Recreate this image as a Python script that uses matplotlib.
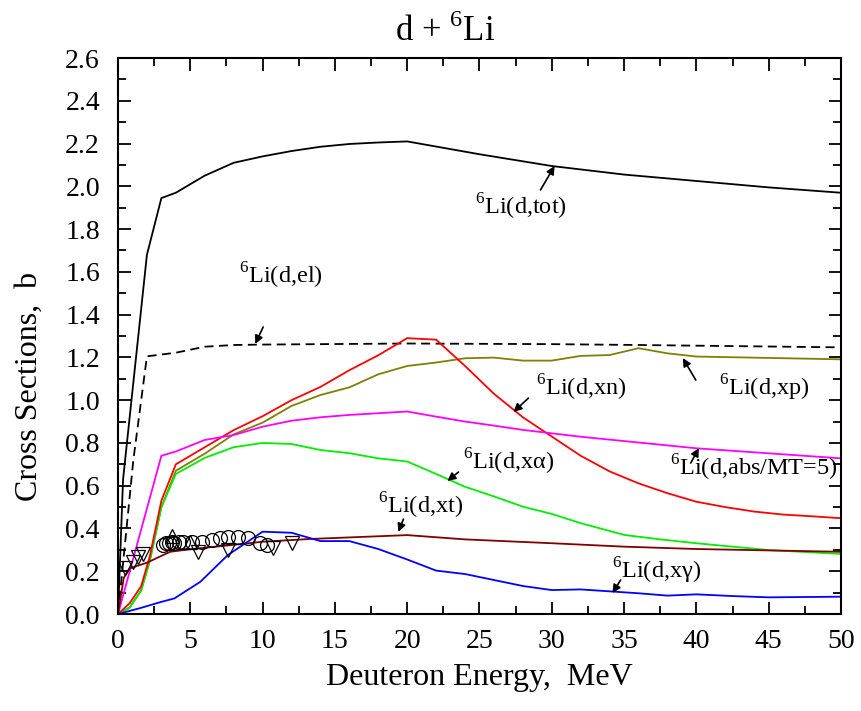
import numpy as np
import matplotlib
matplotlib.use('Agg')
from matplotlib import pyplot as plt
from matplotlib.ticker import MultipleLocator, FormatStrFormatter

plt.rcParams['font.family'] = ['Liberation Serif', 'DejaVu Serif']
plt.rcParams['mathtext.fontset'] = 'custom'
plt.rcParams['mathtext.rm'] = 'Liberation Serif'

# Evaluated cross sections, d + 6Li (energy in MeV, sigma in b)
e_tot = [0, 0.35, 2, 3, 4, 6, 8, 10, 12, 14, 16, 18, 20, 25, 30, 35, 40, 45, 50]
s_tot = [0, 0.63, 1.68, 1.945, 1.97, 2.05, 2.11, 2.14, 2.165, 2.185, 2.198, 2.205, 2.21, 2.15, 2.095, 2.055, 2.025, 1.995, 1.97]

e_el = [0, 1.06, 2, 4, 6, 8, 10, 20, 30, 36, 50]
s_el = [0, 0.72, 1.205, 1.222, 1.25, 1.258, 1.26, 1.265, 1.262, 1.258, 1.247]

e_xn = [0, 0.8, 1.6, 2.2, 3, 4, 6, 8, 10, 12, 14, 16, 18, 20, 22, 24, 26, 28, 30, 32, 34, 36, 38, 40, 42, 44, 46, 48, 50]
s_xn = [0, 0.05, 0.13, 0.27, 0.53, 0.70, 0.78, 0.86, 0.925, 1.0, 1.062, 1.14, 1.21, 1.29, 1.283, 1.16, 1.03, 0.92, 0.83, 0.74, 0.667, 0.611, 0.565, 0.525, 0.50, 0.479, 0.465, 0.457, 0.448]

e_xp = [0, 0.8, 1.6, 2.2, 3, 4, 6, 8, 10, 12, 14, 16, 18, 20, 22, 24, 26, 28, 30, 32, 34, 36, 38, 40, 50]
s_xp = [0, 0.03, 0.11, 0.25, 0.50, 0.67, 0.75, 0.84, 0.895, 0.973, 1.024, 1.06, 1.121, 1.16, 1.176, 1.196, 1.199, 1.185, 1.185, 1.207, 1.211, 1.243, 1.219, 1.204, 1.191]

e_xa = [0, 0.8, 1.6, 2.2, 3, 4, 6, 8, 10, 12, 14, 16, 18, 20, 22, 24, 26, 28, 30, 32, 35, 37.5, 40, 42.5, 45, 50]
s_xa = [0, 0.03, 0.11, 0.25, 0.50, 0.655, 0.73, 0.78, 0.80, 0.795, 0.767, 0.752, 0.728, 0.713, 0.655, 0.595, 0.55, 0.502, 0.468, 0.425, 0.37, 0.349, 0.331, 0.315, 0.299, 0.281]

e_abs = [0, 3, 4, 6, 8, 10, 12, 14, 16, 18, 20, 22, 24, 26, 28, 30, 32, 40, 50]
s_abs = [0, 0.74, 0.76, 0.814, 0.837, 0.876, 0.904, 0.92, 0.931, 0.939, 0.947, 0.923, 0.90, 0.881, 0.861, 0.845, 0.829, 0.775, 0.728]

e_xt = [0, 0.4, 0.83, 2, 3.6, 5, 7.5, 10, 13.3, 20, 24, 30, 35, 40, 50]
s_xt = [0, 0.17, 0.214, 0.24, 0.291, 0.303, 0.32, 0.338, 0.351, 0.369, 0.349, 0.331, 0.315, 0.304, 0.291]

e_xg = [0, 1.5, 2.9, 3.9, 5.7, 7.6, 10, 12, 14, 16, 18, 20, 22, 24, 26, 28, 30, 32, 34, 36, 38, 40, 42.5, 45, 50]
s_xg = [0, 0.027, 0.055, 0.073, 0.151, 0.276, 0.385, 0.38, 0.341, 0.341, 0.304, 0.255, 0.203, 0.187, 0.159, 0.131, 0.112, 0.115, 0.106, 0.097, 0.086, 0.092, 0.084, 0.078, 0.081]

# Measured points
exp_circ_e = [3.1, 3.3, 3.5, 3.7, 3.9, 4.2, 4.5, 5.1, 5.8, 6.5, 7.06, 7.64, 8.33, 9.0, 9.8, 10.3]
exp_circ_s = [0.325, 0.33, 0.33, 0.335, 0.33, 0.335, 0.335, 0.335, 0.338, 0.346, 0.354, 0.362, 0.362, 0.354, 0.33, 0.325]
exp_dn_e = [0.5, 1.05, 1.4, 1.75, 5.55, 7.6, 10.7, 12.0]
exp_dn_s = [0.215, 0.245, 0.265, 0.28, 0.292, 0.30, 0.307, 0.33]
exp_up_e = [3.7, 5.0]
exp_up_s = [0.365, 0.338]

fig = plt.figure(figsize=(8.62, 7.11), dpi=100)
ax = fig.add_axes([0.1369, 0.1364, 0.8387, 0.7820])

lw = 1.3
ax.plot(e_tot, s_tot, color='black', lw=lw)
ax.plot(e_el, s_el, color='black', lw=lw, linestyle=(0, (5, 3)))
ax.plot(e_xp, s_xp, color='#808000', lw=lw)
ax.plot(e_xa, s_xa, color='#00ee00', lw=lw)
ax.plot(e_xn, s_xn, color='#ff0000', lw=lw)
ax.plot(e_abs, s_abs, color='#ff00ff', lw=lw)
ax.plot(e_xt, s_xt, color='#800000', lw=lw)
ax.plot(e_xg, s_xg, color='#0000ff', lw=lw)

mk = dict(linestyle='none', markerfacecolor='none', markeredgecolor='black', markeredgewidth=0.9)
ax.plot(exp_circ_e, exp_circ_s, marker='o', markersize=10, **mk)
ax.plot(exp_dn_e, exp_dn_s, marker='v', markersize=10.5, **mk)
ax.plot(exp_up_e, exp_up_s, marker='^', markersize=10.5, **mk)

ax.set_xlim(0, 50)
ax.set_ylim(0, 2.6)
ax.xaxis.set_major_locator(MultipleLocator(5))
ax.xaxis.set_minor_locator(MultipleLocator(2.5))
ax.yaxis.set_major_locator(MultipleLocator(0.2))
ax.yaxis.set_minor_locator(MultipleLocator(0.1))
ax.yaxis.set_major_formatter(FormatStrFormatter('%.1f'))
ax.tick_params(which='both', direction='in', top=True, right=True, width=1.3, labelsize=20)
ax.tick_params(which='major', length=9)
ax.tick_params(which='minor', length=6)
ax.tick_params(axis='x', pad=11)
ax.tick_params(axis='y', pad=13)
for sp in ax.spines.values():
    sp.set_linewidth(1.5)

ax.set_xlabel('Deuteron Energy,  MeV', fontsize=23, labelpad=6)
ax.set_ylabel('Cross Sections,  b', fontsize=23)
ax.yaxis.set_label_coords(-0.102, 0.41)
fig.text(0.516, 0.955, r'd + $^{\mathrm{6}}$Li', fontsize=25, ha='center', va='center')

# labels with short arrows onto the curves
labels = [
    (r'$^{\mathrm{6}}$Li(d,tot)', (27.84, 1.904), (29.22, 1.983), (30.19, 2.095)),
    (r'$^{\mathrm{6}}$Li(d,el)', (11.29, 1.581), (10.04, 1.342), (9.49, 1.263)),
    (r'$^{\mathrm{6}}$Li(d,xn)', (32.06, 1.057), (28.39, 1.010), (27.35, 0.945)),
    (r'$^{\mathrm{6}}$Li(d,xp)', (44.67, 1.057), (39.96, 1.094), (39.06, 1.197)),
    (r'$^{\mathrm{6}}$Li(d,abs/MT=5)', (43.98, 0.683), (39.61, 0.706), (40.17, 0.776)),
    (r'$^{\mathrm{6}}$Li(d,xα)', (27.0, 0.711), (23.55, 0.664), (22.78, 0.622)),
    (r'$^{\mathrm{6}}$Li(d,xt)', (20.9, 0.505), (19.74, 0.444), (19.39, 0.384)),
    (r'$^{\mathrm{6}}$Li(d,xγ)', (37.26, 0.201), (34.76, 0.159), (34.2, 0.098)),
]
for txt, pos, tail, tip in labels:
    ax.text(pos[0], pos[1], txt, fontsize=17.5, ha='center', va='center')
    ax.annotate('', xy=tip, xytext=tail,
                arrowprops=dict(arrowstyle='-|>', color='black', lw=1.2, mutation_scale=12,
                                shrinkA=0, shrinkB=0))

fig.savefig('out.png', dpi=100)
